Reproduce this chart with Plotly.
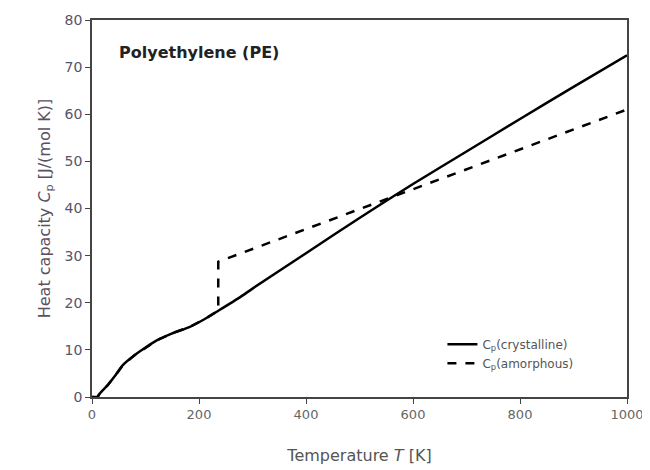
import plotly.graph_objects as go

# Crystalline PE heat capacity
T_cryst = [0, 10, 15, 30, 45, 58, 80, 100, 121, 150, 183, 210, 236, 277, 300, 400, 500, 565, 600, 700, 800, 900, 1000]
Cp_cryst = [0, 0, 0.8, 2.6, 4.8, 6.8, 8.9, 10.5, 12.0, 13.5, 14.9, 16.5, 18.3, 21.2, 23.0, 30.5, 38.0, 42.7, 45.2, 52.1, 59.0, 65.8, 72.5]

# Amorphous PE heat capacity (follows crystalline up to Tg, then jumps)
T_amorph = [0, 10, 15, 30, 45, 58, 80, 100, 121, 150, 183, 210, 236, 236, 1000]
Cp_amorph = [0, 0, 0.8, 2.6, 4.8, 6.8, 8.9, 10.5, 12.0, 13.5, 14.9, 16.5, 18.3, 28.7, 61.0]

x_ticks = [0, 200, 400, 600, 800, 1000]
y_ticks = [0, 10, 20, 30, 40, 50, 60, 70, 80]

FONT = "DejaVu Sans, Liberation Sans, Arial, sans-serif"
TICKCOL = "#55556a"

fig = go.Figure()
fig.add_trace(go.Scatter(
    x=T_cryst, y=Cp_cryst, mode="lines",
    line=dict(color="black", width=2.5, shape="spline", smoothing=0.6),
    name="C<sub>p</sub>(crystalline)"))
fig.add_trace(go.Scatter(
    x=T_amorph, y=Cp_amorph, mode="lines",
    line=dict(color="black", width=2.5, dash="dash"),
    name="C<sub>p</sub>(amorphous)"))

fig.add_annotation(x=47, y=73, xref="x", yref="y", text="<b>Polyethylene (PE)</b>",
                   showarrow=False, xanchor="left", yanchor="middle",
                   font=dict(family=FONT, size=16, color="#222"))

fig.update_layout(
    width=642, height=462,
    margin=dict(l=84, r=23, t=12, b=73, autoexpand=False),
    paper_bgcolor="white", plot_bgcolor="white",
    font=dict(family=FONT, size=14, color=TICKCOL),
    showlegend=True,
    legend=dict(x=0.655, y=0.115, xanchor="left", yanchor="middle",
                bgcolor="rgba(0,0,0,0)", font=dict(size=12, color="#555"),
                tracegroupgap=0),
)
fig.update_xaxes(range=[0, 1000], tickvals=x_ticks, showgrid=False, zeroline=False,
                 showline=True, linecolor="#444", linewidth=1.5, mirror=True,
                 ticks="outside", ticklen=5, tickcolor="#444", automargin=False,
                 tickfont=dict(size=13, color="#666"),
                 title=dict(text="Temperature <i>T</i> [K]", font=dict(size=16, color="#555"), standoff=28))
fig.update_yaxes(range=[0, 80], tickvals=y_ticks, showgrid=False, zeroline=False,
                 showline=True, linecolor="#444", linewidth=1.5, mirror=True,
                 ticks="outside", ticklen=5, tickcolor="#444", automargin=False,
                 tickfont=dict(size=14, color=TICKCOL),
                 title=dict(text="Heat capacity <i>C</i><sub>p</sub> [J/(mol K)]",
                            font=dict(size=16, color="#5a5060"), standoff=10))

fig.write_html("out.html")
